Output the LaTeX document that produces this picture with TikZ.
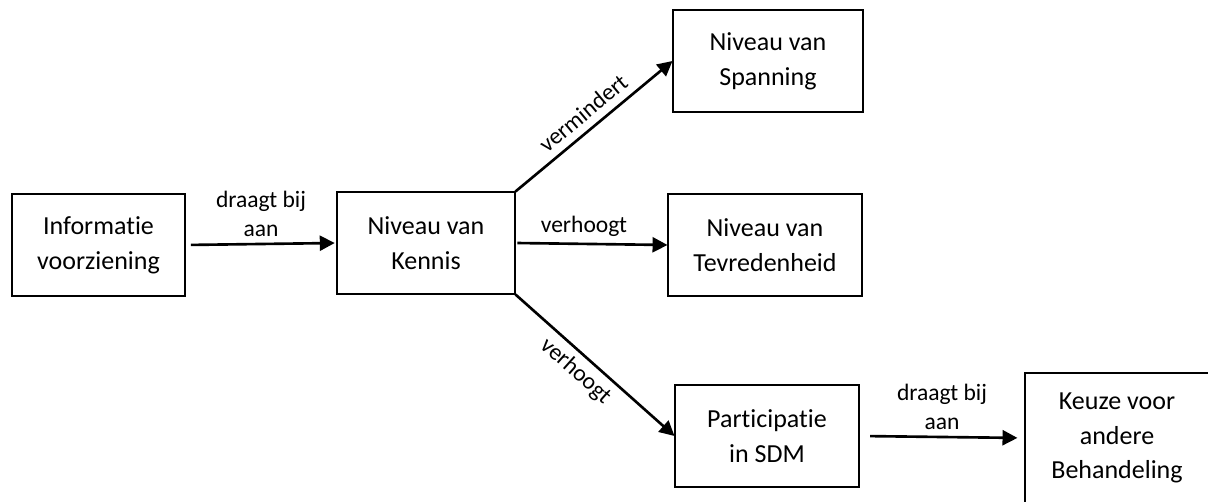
\documentclass[tikz,border=0pt]{standalone}
\usepackage{fontspec}
\setmainfont{Carlito}[Ligatures={NoCommon}]
\usetikzlibrary{positioning,arrows.meta}

\begin{document}
\begin{tikzpicture}[x=0.02cm,y=-0.02cm,
    box/.style={draw, line width=0.6pt, rectangle, align=center, inner sep=0pt,
      minimum height=2.04cm, font=\fontsize{14.8}{19.8}\selectfont},
    conn/.style={line width=1.5pt, -{Triangle[length=8.5pt,width=8.5pt]}},
    lbl/.style={font=\fontsize{13.4}{16.4}\selectfont, align=center}]
  \clip (0,0) rectangle (1208,502);
  % boxes
  \node[box, minimum width=3.46cm] (info) at (98.5,245) {Informatie\\voorziening};
  \node[box, minimum width=3.56cm] (kennis) at (426,243) {Niveau van\\Kennis};
  \node[box, minimum width=3.80cm] (spanning) at (768,61) {Niveau van\\Spanning};
  \node[box, minimum width=3.88cm] (tevreden) at (765,245) {Niveau van\\Tevredenheid};
  \node[box, minimum width=3.68cm] (particip) at (767,436) {Participatie\\in SDM};
  \node[box, minimum width=3.68cm, minimum height=2.6cm] (keuze) at (1117,438) {Keuze voor\\andere\\Behandeling};
  % connectors
  \draw[conn, shorten <=3pt, shorten >=1pt] (info.east) -- node[lbl, above=0pt] {draagt bij\\aan} (kennis.west);
  \draw[conn, shorten <=1pt] (kennis.east) -- node[lbl, above=0pt, pos=0.45] {verhoogt} (tevreden.west);
  \draw[conn] (kennis.north east) -- node[lbl, above=1pt, sloped] {vermindert} (spanning.west);
  \draw[conn] (kennis.south east) -- node[lbl, below, sloped, pos=0.45] {verhoogt} (particip.west);
  \draw[conn, shorten <=6pt, shorten >=4pt] (particip.east) -- node[lbl, above=0pt] {draagt bij\\aan} (keuze.west);
\end{tikzpicture}
\end{document}
